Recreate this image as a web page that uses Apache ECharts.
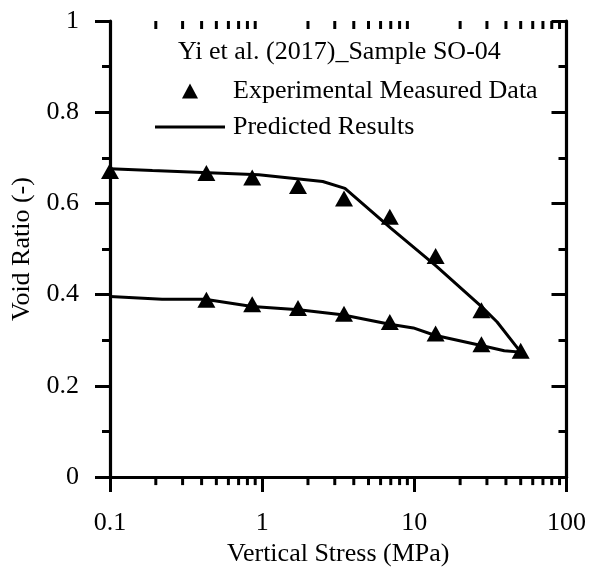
<!DOCTYPE html>
<html>
<head>
<meta charset="utf-8">
<script src="https://cdn.jsdelivr.net/npm/echarts@6/dist/echarts.min.js"></script>
<style>
  html, body { margin: 0; padding: 0; background: #fff; }
  #chart { width: 589px; height: 572px; }
</style>
</head>
<body>
<div id="chart"></div>
<script>
// Vertical stress (MPa) and void ratio of the measured points, loading then unloading
const measuredStress = [0.1, 0.43, 0.86, 1.72, 3.45, 6.9, 13.8, 27.6, 50,
                        27.6, 13.8, 6.9, 3.45, 1.72, 0.86, 0.43];
const measuredVoid   = [0.671, 0.667, 0.657, 0.638, 0.611, 0.571, 0.485, 0.366, 0.277,
                        0.291, 0.315, 0.340, 0.358, 0.371, 0.379, 0.389];

// Predicted compression curve (loading branch followed by unloading branch)
const predictedStress = [0.1, 0.19, 0.95, 2.5, 3.5, 7, 14, 28, 35, 50,
                         39, 28, 13.6, 9.85, 6.9, 3.35, 1.74, 0.86, 0.42, 0.22, 0.1];
const predictedVoid   = [0.676, 0.672, 0.663, 0.648, 0.633, 0.546, 0.462, 0.372, 0.340, 0.274,
                         0.277, 0.288, 0.311, 0.327, 0.335, 0.356, 0.367, 0.374, 0.390, 0.390, 0.396];

// Axis ranges and tick labels
const stressTicks = [0.1, 1, 10, 100];
const stressTickLabels = ['0.1', '1', '10', '100'];
const stressMinorTicks = [0.2, 0.3, 0.4, 0.5, 0.6, 0.7, 0.8, 0.9,
                          2, 3, 4, 5, 6, 7, 8, 9,
                          20, 30, 40, 50, 60, 70, 80, 90];
const voidMin = 0, voidMax = 1, voidStep = 0.2;

const seriesNames = ['Experimental Measured Data', 'Predicted Results'];
const headerText = 'Yi et al. (2017)_Sample SO-04';

const FONT = '"Liberation Serif", "Times New Roman", serif';
const INK = '#000';

const chart = echarts.init(document.getElementById('chart'), null, { renderer: 'canvas' });

function stressLabel(v) {
  for (let i = 0; i < stressTicks.length; i++) {
    if (Math.abs(Math.log10(v) - Math.log10(stressTicks[i])) < 1e-6) return stressTickLabels[i];
  }
  return '';
}

const measuredPairs = measuredStress.map((s, i) => [s, measuredVoid[i]]);
const predictedPairs = predictedStress.map((s, i) => [s, predictedVoid[i]]);

const axisLine = { show: true, lineStyle: { color: INK, width: 3.2 } };
const tickStyle = { color: INK, width: 3 };

chart.setOption({
  animation: false,
  backgroundColor: '#fff',
  grid: { left: 110, right: 20, top: 21, bottom: 89, containLabel: false },
  graphic: [
    {
      type: 'text',
      left: 178, top: 39,
      style: { text: headerText, fill: INK, font: '26px ' + FONT }
    }
  ],
  legend: {
    orient: 'vertical',
    left: 150, top: 71,
    itemWidth: 70, itemHeight: 15, itemGap: 6,
    symbolKeepAspect: true,
    selectedMode: false,
    textStyle: { fontFamily: FONT, fontSize: 26, color: INK, lineHeight: 30, padding: [0, 0, 0, 3] },
    data: [
      { name: seriesNames[0], icon: 'path://M7.5,0 L15,14 L0,14 Z', itemStyle: { color: INK, opacity: 1 } },
      { name: seriesNames[1], icon: 'path://M0,0 L70,0 L70,3 L0,3 Z', itemStyle: { color: INK }, lineStyle: { width: 0 } }
    ]
  },
  xAxis: [
    {
      type: 'log', logBase: 10, min: 0.1, max: 100,
      position: 'bottom',
      name: 'Vertical Stress (MPa)', nameLocation: 'middle', nameGap: 57,
      nameTextStyle: { fontFamily: FONT, fontSize: 26, color: INK },
      axisLine: axisLine,
      axisTick: { show: true, inside: false, length: 15, lineStyle: tickStyle },
      axisLabel: { show: true, margin: 33, fontFamily: FONT, fontSize: 26, color: INK, formatter: stressLabel },
      splitLine: { show: false }
    },
    {
      type: 'log', logBase: 10, min: 0.1, max: 100,
      position: 'top',
      axisLine: axisLine,
      axisTick: { show: true, inside: true, length: 15, lineStyle: tickStyle },
      axisLabel: { show: false },
      splitLine: { show: false }
    }
  ],
  yAxis: [
    {
      type: 'value', min: voidMin, max: voidMax, interval: voidStep,
      position: 'left',
      name: 'Void Ratio (-)', nameLocation: 'middle', nameGap: 71,
      nameTextStyle: { fontFamily: FONT, fontSize: 26, color: INK },
      axisLine: axisLine,
      axisTick: { show: true, inside: false, length: 15, lineStyle: tickStyle },
      minorTick: { show: true, splitNumber: 2, length: 8, lineStyle: tickStyle },
      axisLabel: { show: true, margin: 31, fontFamily: FONT, fontSize: 26, color: INK,
                   formatter: v => (Math.round(v * 10) / 10).toString() },
      splitLine: { show: false }
    },
    {
      type: 'value', min: voidMin, max: voidMax, interval: voidStep,
      position: 'right',
      axisLine: axisLine,
      axisTick: { show: true, inside: true, length: 15, lineStyle: tickStyle },
      minorTick: { show: true, splitNumber: 2, length: 8, lineStyle: tickStyle },
      axisLabel: { show: false },
      splitLine: { show: false }
    }
  ],
  series: [
    {
      name: seriesNames[1],
      type: 'line',
      xAxisIndex: 0, yAxisIndex: 0,
      data: predictedPairs,
      showSymbol: false, symbol: 'none',
      lineStyle: { color: INK, width: 3 },
      itemStyle: { color: INK },
      z: 3
    },
    {
      name: seriesNames[0],
      type: 'scatter',
      xAxisIndex: 0, yAxisIndex: 0,
      data: measuredPairs,
      symbol: 'triangle',
      symbolSize: [18, 16],
      itemStyle: { color: INK, opacity: 1 },
      z: 4
    },
    {
      // logarithmic minor ticks on the bottom (outward) and top (inward) frames
      name: 'minorTicks',
      type: 'custom',
      xAxisIndex: 0, yAxisIndex: 0,
      silent: true,
      clip: false,
      data: stressMinorTicks.map(v => [v]),
      renderItem: function (params, api) {
        const v = api.value(0);
        const b = api.coord([v, voidMin]);
        const t = api.coord([v, voidMax]);
        const style = { stroke: INK, lineWidth: 3 };
        return {
          type: 'group',
          children: [
            { type: 'line', shape: { x1: b[0], y1: b[1], x2: b[0], y2: b[1] + 8 }, style: style },
            { type: 'line', shape: { x1: t[0], y1: t[1], x2: t[0], y2: t[1] + 8 }, style: style }
          ]
        };
      },
      z: 5
    }
  ]
});
</script>
</body>
</html>
